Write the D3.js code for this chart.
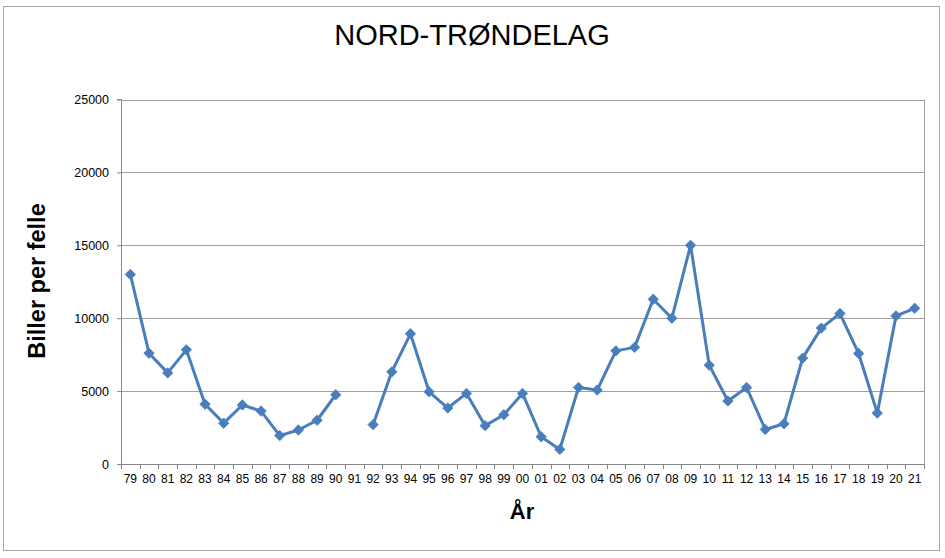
<!DOCTYPE html>
<html><head><meta charset="utf-8">
<script src="https://cdn.jsdelivr.net/npm/d3@7"></script>
<style>body{margin:0;background:#fff}svg{display:block}text{font-family:"Liberation Sans",Arial,sans-serif}</style>
</head><body>
<svg id="c" width="945" height="558"></svg>
<script>
const years = ["79","80","81","82","83","84","85","86","87","88","89","90","91","92","93","94","95","96","97","98","99","00","01","02","03","04","05","06","07","08","09","10","11","12","13","14","15","16","17","18","19","20","21"];
const values = [13000,7600,6250,7830,4100,2800,4050,3630,1950,2330,3000,4750,null,2700,6320,8930,4950,3840,4840,2630,3380,4840,1870,1000,5250,5070,7760,8000,11300,10000,15000,6780,4320,5250,2370,2760,7260,9320,10320,7580,3490,10160,10680];
const yTicks = [0,5000,10000,15000,20000,25000];
const title = "NORD-TRØNDELAG";
const yTitle = "Biller per felle";
const xTitle = "År";

const svg = d3.select("#c");
const m = {l:121, r:924, t:99.5, b:464};
svg.append("rect").attr("x",3.5).attr("y",6.5).attr("width",936).attr("height",544)
  .attr("fill","#fff").attr("stroke","#a6a6a6").attr("stroke-width",1);

const x = d3.scaleBand().domain(years).range([m.l,m.r]);
const y = d3.scaleLinear().domain([0,25000]).range([m.b,m.t]);

svg.append("g").selectAll("line").data(yTicks).join("line")
  .attr("x1",m.l).attr("x2",m.r).attr("y1",d=>Math.round(y(d))+0.5).attr("y2",d=>Math.round(y(d))+0.5)
  .attr("stroke","#a0a0a0").attr("stroke-width",1);
svg.append("line").attr("x1",m.r+0.5).attr("x2",m.r+0.5).attr("y1",m.t).attr("y2",m.b).attr("stroke","#a0a0a0");

const ya = svg.append("g").attr("transform",`translate(${m.l},0)`)
  .call(d3.axisLeft(y).tickValues(yTicks).tickSize(4).tickPadding(8).tickFormat(d3.format("d")));
ya.selectAll("text").attr("font-size",12.5).attr("fill","#000");
ya.selectAll("line,path").attr("stroke","#868686");
ya.select(".domain").attr("d",`M-4,${m.t}H0.5V${m.b}`);

const xa = svg.append("g").attr("transform",`translate(0,${m.b})`);
xa.append("line").attr("x1",m.l).attr("x2",m.r).attr("y1",0.5).attr("y2",0.5).attr("stroke","#868686");
const bounds = years.map(d=>x(d)).concat([m.r]);
xa.selectAll("line.t").data(bounds).join("line").attr("class","t")
  .attr("x1",d=>Math.round(d)+0.5).attr("x2",d=>Math.round(d)+0.5).attr("y1",0).attr("y2",5).attr("stroke","#868686");
xa.selectAll("text").data(years).join("text")
  .attr("x",d=>x(d)+x.bandwidth()/2).attr("y",19).attr("text-anchor","middle")
  .attr("font-size",12).attr("fill","#000").text(d=>d);

const pts = years.map((d,i)=>({k:d,v:values[i]}));
const line = d3.line().defined(d=>d.v!=null).x(d=>x(d.k)+x.bandwidth()/2).y(d=>y(d.v));
svg.append("path").datum(pts).attr("d",line).attr("fill","none").attr("stroke","#4a7ebb").attr("stroke-width",3).attr("stroke-linejoin","round");
svg.append("g").selectAll("path").data(pts.filter(d=>d.v!=null)).join("path")
  .attr("d","M0,-5.2L5.2,0L0,5.2L-5.2,0Z")
  .attr("transform",d=>`translate(${x(d.k)+x.bandwidth()/2},${y(d.v)})`)
  .attr("fill","#4a7ebb").attr("stroke","#4a7ebb").attr("stroke-width",0.8);

svg.append("text").attr("x",472).attr("y",45).attr("text-anchor","middle").attr("font-size",29).text(title);
svg.append("text").attr("transform","translate(45,281) rotate(-90)").attr("text-anchor","middle")
  .attr("font-size",23.5).attr("font-weight","bold").text(yTitle);
svg.append("text").attr("x",522).attr("y",519).attr("text-anchor","middle").attr("font-size",22).attr("font-weight","bold").text(xTitle);
</script>
</body></html>
